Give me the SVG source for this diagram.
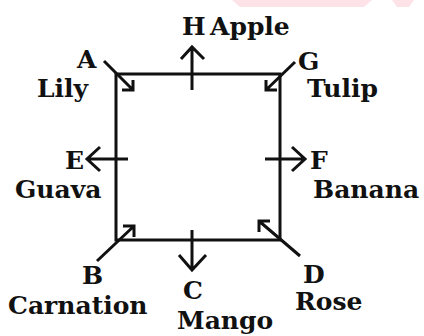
<svg xmlns="http://www.w3.org/2000/svg" width="424" height="336" viewBox="0 0 424 336">
<style>
.t{font-family:"DejaVu Serif","Liberation Serif",serif;font-weight:bold;font-size:25px;fill:#111}
.ln{stroke:#111;stroke-width:3;fill:none;stroke-linecap:butt;stroke-linejoin:miter}
</style>
<rect width="424" height="336" fill="#fff"/>
<g id="watermark" fill="#fde3e8">
<polygon points="232,0 372,0 364,7 240,7"/>
<polygon points="392,0 414,0 409,7 397,7"/>
</g>
<g id="square"><rect class="ln" x="116" y="74" width="164" height="166"/></g>
<g id="connectors" class="ln">
<path d="M104,61 L133,90 M122,90 L133,90 L133,80"/>
<path d="M295,62 L266,90 M266,80 L266,90 L277,90"/>
<path d="M97,261 L134,226 M123,226 L134,226 L134,237"/>
<path d="M300,256 L259,221 M270,221 L259,221 L259,232"/>
<path d="M192,90 L192,47 M181,59 L192,47 L204,59"/>
<path d="M192,230 L192,270 M179,255 L192,270 L206,255"/>
<path d="M128,159 L87,159 M100,147 L87,159 L100,171"/>
<path d="M265,159 L305,159 M292,147 L305,159 L292,171"/>
</g>
<g id="A"><text class="t" x="77" y="68">A</text><text class="t" x="37" y="97">Lily</text></g>
<g id="G"><text class="t" x="298" y="70">G</text><text class="t" x="307" y="97">Tulip</text></g>
<g id="H"><text class="t" x="182" y="35">H</text><text class="t" x="210" y="35">Apple</text></g>
<g id="E"><text class="t" x="65" y="169">E</text><text class="t" x="15" y="198">Guava</text></g>
<g id="F"><text class="t" x="310" y="169">F</text><text class="t" x="313" y="198">Banana</text></g>
<g id="B"><text class="t" x="82" y="284">B</text><text class="t" x="8" y="314">Carnation</text></g>
<g id="C"><text class="t" x="183" y="299">C</text><text class="t" x="177" y="329">Mango</text></g>
<g id="D"><text class="t" x="303" y="283">D</text><text class="t" x="295" y="310">Rose</text></g>
</svg>
